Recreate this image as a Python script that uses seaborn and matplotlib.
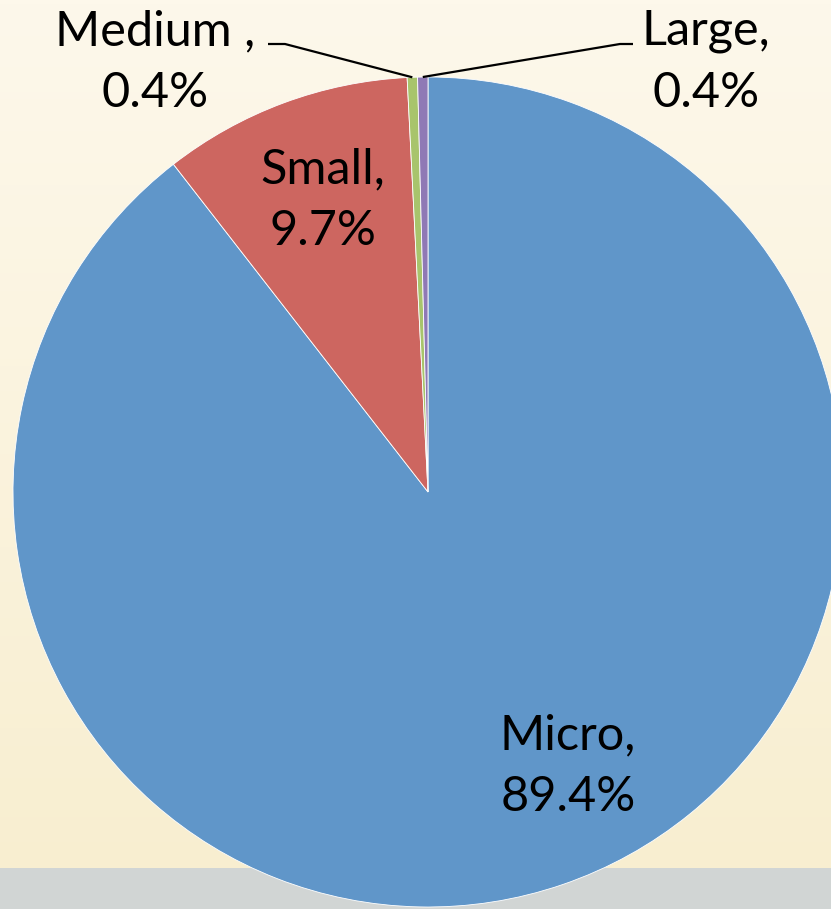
import numpy as np
import matplotlib
matplotlib.use("Agg")
import matplotlib.pyplot as plt
from matplotlib.colors import LinearSegmentedColormap
import seaborn as sns

# --- data ---
categories = ["Micro", "Small", "Medium", "Large"]
shares = [89.4, 9.7, 0.4, 0.4]
label_texts = ["Micro,\n89.4%", "Small,\n9.7%", "Medium ,\n0.4%", "Large,\n0.4%"]
colors = ["#6096c9", "#cd6660", "#a8c46c", "#8f79b5"]

sns.set_style("white")
plt.rcParams["font.family"] = ["Lato", "DejaVu Sans"]

W, H, DPI = 831, 909, 100
fig = plt.figure(figsize=(W / DPI, H / DPI), dpi=DPI)

# background gradient + grey band at the bottom
bg = fig.add_axes([0, 0, 1, 1])
bg.set_axis_off()
cmap = LinearSegmentedColormap.from_list("bg", ["#fdf8eb", "#f8eecf"])
grad = np.linspace(0, 1, 256).reshape(-1, 1)
bg.imshow(grad, aspect="auto", cmap=cmap, extent=[0, 1, 0, 1], origin="upper")
bg.axhspan(0, 41 / H, color="#d1d5d4", lw=0)
bg.set_xlim(0, 1)
bg.set_ylim(0, 1)

# pie axes: centre at (428, 492) px, radius 415 px
cx, cy, R = 428, 492, 415
ax = fig.add_axes([0, 0, 1, 1])
ax.patch.set_alpha(0)
wedges, _ = ax.pie(shares, colors=colors, startangle=90, counterclock=False,
                   wedgeprops=dict(edgecolor="white", linewidth=0.6))
ax.set_aspect("auto")
ax.set_xlim(-cx / R, (W - cx) / R)
ax.set_ylim(-(H - cy) / R, cy / R)
ax.set_axis_off()


def px(x, y):
    return (x - cx) / R, (cy - y) / R


txt = dict(ha="center", va="center", fontsize=35, linespacing=1.5, color="black")
ax.text(*px(568, 766), label_texts[0], **txt)
ax.text(*px(323, 200), label_texts[1], **txt)
ax.text(*px(155, 62), label_texts[2], **txt)
ax.text(*px(706, 62), label_texts[3], **txt)

# leader lines for the tiny slices
for w, elbow, end in [(wedges[2], px(285, 44), px(268, 44)),
                      (wedges[3], px(620, 44), px(633, 44))]:
    mid = np.deg2rad((w.theta1 + w.theta2) / 2)
    tip = (np.cos(mid), np.sin(mid))
    ax.plot([tip[0], elbow[0], end[0]], [tip[1], elbow[1], end[1]],
            color="black", lw=1.6, solid_capstyle="butt")

fig.savefig("out.png", dpi=DPI)
